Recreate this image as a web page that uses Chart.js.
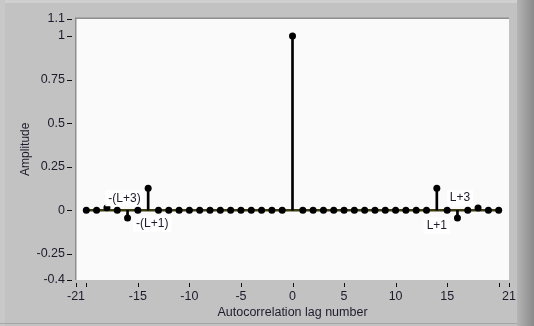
<!DOCTYPE html>
<html>
<head>
<meta charset="utf-8">
<script src="https://cdn.jsdelivr.net/npm/chart.js@4.4.1/dist/chart.umd.min.js"></script>
<style>
  html, body { margin: 0; padding: 0; background: #c2c2c2; }
  canvas { display: block; }
</style>
</head>
<body>
<canvas id="acf" width="534" height="326"></canvas>
<script>
// autocorrelation estimate, lag -20 .. 20
const lags = [-20, -19, -18, -17, -16, -15, -14, -13, -12, -11, -10, -9, -8, -7, -6, -5, -4, -3, -2, -1,
  0, 1, 2, 3, 4, 5, 6, 7, 8, 9, 10, 11, 12, 13, 14, 15, 16, 17, 18, 19, 20];
const amplitude = [0, 0, 0.015, 0, -0.045, 0, 0.127, 0, 0, 0, 0, 0, 0, 0, 0, 0, 0, 0, 0, 0,
  1, 0, 0, 0, 0, 0, 0, 0, 0, 0, 0, 0, 0, 0, 0.127, 0, -0.045, 0, 0.013, 0, 0];

const xTicks = [-21, -20, -15, -10, -5, 0, 5, 10, 15, 20, 21];
const xTickLabels = ['-21', '', '-15', '-10', '-5', '0', '5', '10', '15', '', '21'];
const yTicks = [1.1, 1, 0.75, 0.5, 0.25, 0, -0.25, -0.4];
const yTickLabels = ['1.1', '1', '0.75', '0.5', '0.25', '0', '-0.25', '-0.4'];

const FONT = '"Liberation Sans", Arial, sans-serif';
const TEXT = '#1c1c2c';

// lag annotations, placed in data units
const notes = [
  { text: '-(L+3)', x: -16.3, y: 0.069 },
  { text: '-(L+1)', x: -13.6, y: -0.077 },
  { text: 'L+3', x: 16.25, y: 0.071 },
  { text: 'L+1', x: 14.0, y: -0.088 }
];

const stemPoints = lags.map((l, i) => ({ x: l, y: amplitude[i] }));

// grey panel, plot well and outside tick marks
const panel = {
  id: 'panel',
  beforeDraw(chart) {
    const { ctx, chartArea: a, width, height } = chart;
    ctx.save();
    ctx.fillStyle = '#c2c2c2';
    ctx.fillRect(0, 0, width, height);
    ctx.fillStyle = '#cfcfcf';
    ctx.fillRect(0, 0, width, 3);
    ctx.fillStyle = '#c8c8c8';
    ctx.fillRect(0, 0, 5, height);
    const g = ctx.createLinearGradient(517, 0, width, 0);
    g.addColorStop(0, '#b4b4b4');
    g.addColorStop(1, '#8a8a8a');
    ctx.fillStyle = g;
    ctx.fillRect(517, 0, width - 517, height);
    ctx.fillStyle = '#a6a6a6';
    ctx.fillRect(0, height - 3, 517, 1);

    ctx.fillStyle = '#fafafa';
    ctx.fillRect(a.left, a.top, a.right - a.left, a.bottom - a.top);
    ctx.fillStyle = '#8e8e8e';
    ctx.fillRect(a.left - 1, a.top - 1, a.right - a.left + 1, 1.5);
    ctx.fillRect(a.left - 1, a.top - 1, 1.5, a.bottom - a.top + 1);

    ctx.strokeStyle = '#111';
    ctx.lineWidth = 1;
    const xs = chart.scales.x, ys = chart.scales.y;
    xTicks.forEach(v => {
      const px = Math.round(xs.getPixelForValue(v)) + 0.5;
      ctx.beginPath();
      ctx.moveTo(px, a.bottom + 3);
      ctx.lineTo(px, a.bottom + 7);
      ctx.stroke();
    });
    yTicks.forEach(v => {
      const py = Math.round(ys.getPixelForValue(v)) + 0.5;
      ctx.beginPath();
      ctx.moveTo(a.left - 9, py);
      ctx.lineTo(a.left - 4, py);
      ctx.stroke();
    });
    ctx.restore();
  },
  afterDatasetsDraw(chart) {
    const { ctx } = chart;
    const xs = chart.scales.x, ys = chart.scales.y;
    ctx.save();
    ctx.font = '12px ' + FONT;
    ctx.textAlign = 'center';
    ctx.textBaseline = 'middle';
    notes.forEach(n => {
      const px = xs.getPixelForValue(n.x);
      const py = ys.getPixelForValue(n.y);
      const w = ctx.measureText(n.text).width;
      ctx.fillStyle = '#ffffff';
      ctx.fillRect(px - w / 2 - 3, py - 8, w + 6, 16);
      ctx.fillStyle = TEXT;
      ctx.fillText(n.text, px, py);
    });
    ctx.restore();
  }
};

new Chart(document.getElementById('acf'), {
  type: 'bar',
  data: {
    datasets: [
      {
        type: 'line',
        label: 'markers',
        data: stemPoints,
        showLine: false,
        pointRadius: 3.5,
        pointHoverRadius: 3.5,
        pointBackgroundColor: '#000',
        pointBorderWidth: 0,
        order: 0
      },
      {
        type: 'bar',
        label: 'stems',
        data: stemPoints,
        backgroundColor: '#000',
        barThickness: 2,
        borderWidth: 0,
        order: 1
      },
      {
        type: 'line',
        label: 'baseline',
        data: [{ x: lags[0], y: 0 }, { x: lags[lags.length - 1], y: 0 }],
        borderColor: '#3f3c10',
        borderWidth: 2.5,
        pointRadius: 0,
        order: 2
      }
    ]
  },
  options: {
    responsive: false,
    animation: false,
    layout: { padding: { top: 11, right: 25, left: 0, bottom: 0 } },
    plugins: {
      legend: { display: false },
      tooltip: { enabled: false }
    },
    scales: {
      x: {
        type: 'linear',
        min: -21,
        max: 21,
        offset: false,
        grid: { display: false, drawTicks: false, offset: false },
        border: { display: false },
        afterBuildTicks(scale) {
          scale.ticks = xTicks.map(v => ({ value: v }));
        },
        afterFit(scale) { scale.height = 46; },
        ticks: {
          padding: 9,
          autoSkip: false,
          maxRotation: 0,
          color: TEXT,
          font: { family: FONT, size: 12.5 },
          callback: (v, i) => xTickLabels[i]
        },
        title: {
          display: true,
          text: 'Autocorrelation lag number',
          color: TEXT,
          font: { family: FONT, size: 12.5 },
          padding: { top: 0, bottom: 6 }
        }
      },
      y: {
        type: 'linear',
        min: -0.4,
        max: 1.1,
        grid: { display: false, drawTicks: false },
        border: { display: false },
        afterBuildTicks(scale) {
          scale.ticks = yTicks.map(v => ({ value: v }));
        },
        afterFit(scale) { scale.width = 76; },
        ticks: {
          padding: 11,
          autoSkip: false,
          color: TEXT,
          font: { family: FONT, size: 12.5 },
          callback: (v, i) => yTickLabels[i]
        },
        title: {
          display: true,
          text: 'Amplitude',
          color: TEXT,
          font: { family: FONT, size: 12 },
          padding: { top: 18, bottom: 0 }
        }
      }
    }
  },
  plugins: [panel]
});
</script>
</body>
</html>
